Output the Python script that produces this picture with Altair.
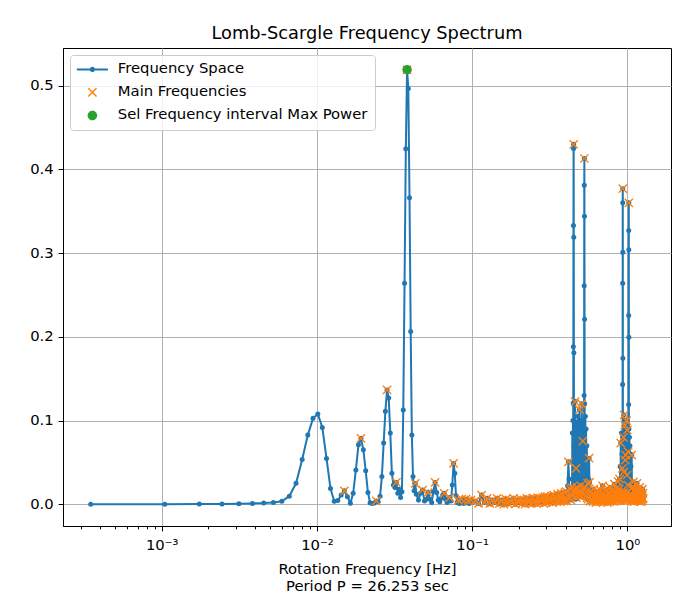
import altair as alt
import pandas as pd

# ---------------- data ----------------
series_names = ["Frequency Space", "Main Frequencies", "Sel Frequency interval Max Power"]
series_colors = ["#1f77b4", "#ff7f0e", "#2ca02c"]

# low-frequency part
freq_low = [0.000349, 0.001048, 0.001747, 0.002446, 0.003145, 0.003844, 0.004543, 0.005242,
            0.005941, 0.006640, 0.007339, 0.008038, 0.008737, 0.009436, 0.010135, 0.010834,
            0.011533, 0.012232, 0.012931, 0.013630, 0.014329, 0.015028, 0.015727, 0.016426,
            0.017125, 0.017824, 0.018523, 0.019222, 0.019921, 0.020620, 0.021319, 0.022018,
            0.022717, 0.023416, 0.024115, 0.024814, 0.025513, 0.026212, 0.026911, 0.027610,
            0.028309, 0.029008, 0.029707, 0.030406, 0.031105, 0.031804, 0.032503, 0.033202,
            0.033901, 0.034600, 0.035299, 0.035998, 0.036697, 0.037396, 0.038095, 0.038794,
            0.039493, 0.040192, 0.040891, 0.041590, 0.042289, 0.042988]
power_low = [0.0000, 0.0001, 0.0002, 0.0004, 0.0006, 0.0010, 0.0014, 0.0022,
             0.0035, 0.0096, 0.0250, 0.0535, 0.0826, 0.1026, 0.1078, 0.0918,
             0.0547, 0.0188, 0.0036, 0.0044, 0.0110, 0.0160, 0.0090, 0.0012,
             0.0130, 0.0410, 0.0710, 0.0786, 0.0650, 0.0400, 0.0140, 0.0018,
             0.0010, 0.0016, 0.0040, 0.0030, 0.0095, 0.0330, 0.0730, 0.1110,
             0.1365, 0.1270, 0.0850, 0.0370, 0.0230, 0.0200, 0.0260, 0.0130,
             0.0180, 0.0080, 0.0150, 0.1126, 0.2640, 0.4247, 0.5190, 0.4966,
             0.3660, 0.2064, 0.0826, 0.0330, 0.0160, 0.0248]
main_low = [0.010135, 0.015028, 0.019222, 0.024115, 0.028309, 0.032503, 0.038095, 0.042988]

# 0.04 - 0.1 Hz
freq_b = [0.0437, 0.0451, 0.0465, 0.0479, 0.0493, 0.0507, 0.0521, 0.0535, 0.0549, 0.0563,
          0.0577, 0.0591, 0.0605, 0.0619, 0.0633, 0.0647, 0.0661, 0.0675, 0.0689, 0.0703,
          0.0717, 0.0731, 0.0745, 0.0759, 0.0773, 0.0787, 0.0801, 0.0815, 0.0829, 0.0843,
          0.0857, 0.0871, 0.0885, 0.0899, 0.0913, 0.0927, 0.0941, 0.0955, 0.0969, 0.0983, 0.0997]
power_b = [0.012, 0.005, 0.013, 0.017, 0.004, 0.006, 0.014, 0.006, 0.002, 0.015,
           0.026, 0.014, 0.005, 0.003, 0.007, 0.011, 0.013, 0.006, 0.002, 0.004,
           0.008, 0.004, 0.023, 0.0487, 0.037, 0.010, 0.002, 0.005, 0.001, 0.003,
           0.006, 0.002, 0.001, 0.004, 0.006, 0.002, 0.004, 0.001, 0.003, 0.005, 0.002]
main_b = [0.0479, 0.0521, 0.0577, 0.0661, 0.0717, 0.0759, 0.0815, 0.0857, 0.0913, 0.0941,
          0.0983]

# 0.1 - 0.4 Hz (every point is a flagged maximum at this density)
freq_c = [0.105, 0.110, 0.115, 0.120, 0.125, 0.130, 0.135, 0.140, 0.145, 0.150,
          0.155, 0.160, 0.165, 0.170, 0.175, 0.180, 0.185, 0.190, 0.195, 0.200,
          0.205, 0.210, 0.215, 0.220, 0.225, 0.230, 0.235, 0.240, 0.245, 0.250,
          0.255, 0.260, 0.265, 0.270, 0.275, 0.280, 0.285, 0.290, 0.295, 0.300,
          0.305, 0.310, 0.315, 0.320, 0.325, 0.330, 0.335, 0.340, 0.345, 0.350,
          0.355, 0.360, 0.365, 0.370, 0.375, 0.380, 0.385, 0.390, 0.395]
power_c = [0.004, 0.001, 0.011, 0.002, 0.007, 0.001, 0.005, 0.002, 0.007, 0.001,
           0.005, 0.000, 0.006, 0.001, 0.005, 0.002, 0.007, 0.000, 0.005, 0.002,
           0.006, 0.001, 0.005, 0.000, 0.007, 0.002, 0.006, 0.001, 0.007, 0.002,
           0.006, 0.001, 0.008, 0.002, 0.007, 0.003, 0.008, 0.001, 0.009, 0.002,
           0.009, 0.003, 0.008, 0.004, 0.010, 0.002, 0.011, 0.004, 0.009, 0.003,
           0.012, 0.004, 0.010, 0.003, 0.013, 0.005, 0.011, 0.004, 0.014]

# 0.4 - 0.58 Hz (first group of peaks)
freq_d = [0.400, 0.404, 0.408, 0.412, 0.417, 0.421, 0.425, 0.429, 0.433, 0.437,
          0.440, 0.442, 0.444, 0.446, 0.4473, 0.4480, 0.4487, 0.4494, 0.4501, 0.4508,
          0.4515, 0.4522, 0.4529, 0.455, 0.458, 0.4605, 0.463, 0.465, 0.4672, 0.470,
          0.473, 0.476, 0.479, 0.482, 0.485, 0.488, 0.4908, 0.494, 0.497, 0.500,
          0.503, 0.506, 0.5086, 0.511, 0.5135, 0.5162, 0.519, 0.522, 0.5250, 0.5263,
          0.5270, 0.5277, 0.5284, 0.5291, 0.5298, 0.5305, 0.533, 0.536, 0.539, 0.542,
          0.545, 0.548, 0.551, 0.555, 0.559, 0.563, 0.5666, 0.570, 0.574]
power_d = [0.005, 0.015, 0.004, 0.022, 0.0507, 0.030, 0.007, 0.018, 0.005, 0.020,
           0.010, 0.085, 0.012, 0.100, 0.010, 0.121, 0.188, 0.333, 0.425, 0.430,
           0.319, 0.181, 0.070, 0.015, 0.095, 0.1226, 0.018, 0.006, 0.0427, 0.008,
           0.098, 0.020, 0.105, 0.012, 0.090, 0.016, 0.113, 0.010, 0.100, 0.022,
           0.095, 0.014, 0.120, 0.009, 0.030, 0.0755, 0.018, 0.100, 0.012, 0.130,
           0.261, 0.381, 0.413, 0.344, 0.221, 0.120, 0.020, 0.105, 0.010, 0.090,
           0.015, 0.070, 0.008, 0.025, 0.006, 0.030, 0.055, 0.026, 0.004]
main_d = [0.400, 0.404, 0.408, 0.417, 0.425, 0.429, 0.433, 0.437, 0.440, 0.444, 0.4508,
          0.455, 0.4605, 0.463, 0.4672, 0.470, 0.476, 0.482, 0.488, 0.4908, 0.494, 0.500,
          0.506, 0.5086, 0.511, 0.5162, 0.519, 0.5250, 0.5284, 0.533, 0.539, 0.545, 0.551,
          0.555, 0.559, 0.5666, 0.570, 0.574]

# 0.58 - 0.89 Hz (every point flagged)
freq_e = [0.578, 0.584, 0.590, 0.596, 0.602, 0.608, 0.614, 0.620, 0.626, 0.632,
          0.638, 0.644, 0.650, 0.656, 0.662, 0.668, 0.674, 0.680, 0.686, 0.692,
          0.698, 0.704, 0.710, 0.716, 0.722, 0.728, 0.734, 0.740, 0.746, 0.752,
          0.758, 0.764, 0.770, 0.776, 0.782, 0.788, 0.794, 0.800, 0.806, 0.812,
          0.818, 0.824, 0.830, 0.836, 0.842, 0.848, 0.854, 0.860, 0.866, 0.872,
          0.878, 0.884]
power_e = [0.004, 0.016, 0.006, 0.012, 0.003, 0.018, 0.007, 0.011, 0.002, 0.015,
           0.005, 0.010, 0.003, 0.014, 0.006, 0.017, 0.004, 0.011, 0.003, 0.022,
           0.007, 0.013, 0.003, 0.010, 0.005, 0.016, 0.004, 0.012, 0.002, 0.018,
           0.006, 0.013, 0.003, 0.020, 0.007, 0.011, 0.004, 0.017, 0.006, 0.013,
           0.003, 0.024, 0.007, 0.015, 0.005, 0.019, 0.004, 0.013, 0.008, 0.027,
           0.005, 0.018]

# 0.89 - 1.11 Hz (second group of peaks)
freq_f = [0.888, 0.891, 0.894, 0.898, 0.902, 0.907, 0.911, 0.915, 0.919, 0.923,
          0.927, 0.930, 0.9319, 0.9326, 0.9333, 0.9340, 0.9347, 0.9354, 0.9361, 0.939,
          0.943, 0.9455, 0.948, 0.950, 0.952, 0.955, 0.958, 0.961, 0.964, 0.967,
          0.970, 0.973, 0.976, 0.979, 0.982, 0.985, 0.988, 0.991, 0.994, 0.997,
          1.000, 1.003, 1.006, 1.009, 1.012, 1.015, 1.0189, 1.0196, 1.0203, 1.0210,
          1.0217, 1.0224, 1.0231, 1.027, 1.031, 1.035, 1.039, 1.043, 1.047, 1.051,
          1.055, 1.059, 1.0667, 1.071, 1.077, 1.083, 1.088, 1.093, 1.099, 1.105]
power_f = [0.005, 0.030, 0.006, 0.045, 0.008, 0.073, 0.010, 0.085, 0.006, 0.060,
           0.012, 0.0427, 0.143, 0.264, 0.360, 0.377, 0.301, 0.1745, 0.080, 0.010,
           0.080, 0.006, 0.0387, 0.007, 0.1066, 0.015, 0.090, 0.005, 0.0946, 0.012,
           0.0527, 0.006, 0.0587, 0.010, 0.085, 0.005, 0.100, 0.008, 0.0347, 0.006,
           0.0886, 0.014, 0.0228, 0.005, 0.0626, 0.010, 0.119, 0.2255, 0.327, 0.360,
           0.304, 0.1996, 0.090, 0.008, 0.080, 0.006, 0.070, 0.012, 0.060, 0.005,
           0.045, 0.010, 0.0587, 0.004, 0.020, 0.005, 0.006, 0.0267, 0.003, 0.016]
main_f = [0.888, 0.891, 0.894, 0.902, 0.907, 0.911, 0.919, 0.927, 0.930, 0.9340, 0.939,
          0.943, 0.9455, 0.948, 0.950, 0.952, 0.955, 0.961, 0.964, 0.967, 0.970, 0.973,
          0.976, 0.979, 0.985, 0.988, 0.991, 0.994, 0.997, 1.000, 1.003, 1.006, 1.009,
          1.012, 1.015, 1.0210, 1.027, 1.035, 1.043, 1.051, 1.059, 1.0667, 1.071, 1.077,
          1.083, 1.088, 1.093, 1.099, 1.105]

# 1.11 - 1.27 Hz (every point flagged)
freq_g = [1.111, 1.117, 1.123, 1.129, 1.135, 1.141, 1.147, 1.153, 1.159, 1.165,
          1.171, 1.177, 1.183, 1.189, 1.195, 1.201, 1.207, 1.213, 1.219, 1.225,
          1.231, 1.237, 1.243, 1.249, 1.255, 1.261, 1.267]
power_g = [0.006, 0.015, 0.004, 0.018, 0.007, 0.013, 0.005, 0.025, 0.006, 0.012,
           0.004, 0.017, 0.007, 0.013, 0.004, 0.020, 0.006, 0.011, 0.003, 0.016,
           0.007, 0.012, 0.004, 0.018, 0.006, 0.013, 0.007]

# selected maximum
sel_freq = [0.038095]
sel_power = [0.519]

# ticks
x_major = [0.001, 0.01, 0.1, 1.0]
x_major_labels = ["10⁻³", "10⁻²", "10⁻¹", "10⁰"]
x_minor = [0.0003, 0.0004, 0.0005, 0.0006, 0.0007, 0.0008, 0.0009,
           0.002, 0.003, 0.004, 0.005, 0.006, 0.007, 0.008, 0.009,
           0.02, 0.03, 0.04, 0.05, 0.06, 0.07, 0.08, 0.09,
           0.2, 0.3, 0.4, 0.5, 0.6, 0.7, 0.8, 0.9]
y_ticks = [0.0, 0.1, 0.2, 0.3, 0.4, 0.5]

# ---------------- frames ----------------
freq = freq_low + freq_b + freq_c + freq_d + freq_e + freq_f + freq_g
power = power_low + power_b + power_c + power_d + power_e + power_f + power_g
spec = pd.DataFrame({"f": freq, "p": power})

main_freq = main_low + main_b + freq_c + main_d + freq_e + main_f + freq_g
main_keys = {round(v, 5) for v in main_freq}
main = spec[spec["f"].round(5).isin(main_keys)].copy()

sel = pd.DataFrame({"f": sel_freq, "p": sel_power})

legend_rows = pd.DataFrame({"f": pd.Series([], dtype=float),
                            "p": pd.Series([], dtype=float),
                            "series": pd.Series([], dtype=str)})

# ---------------- chart ----------------
FONT = "DejaVu Sans"
FS = 14.8


def near(v):
    return f"abs(datum.value - {v}) < {v * 1e-6}"


major_test = " || ".join(near(v) for v in x_major)
label_expr = "".join(f"{near(v)} ? '{lab}' : " for v, lab in zip(x_major, x_major_labels)) + "''"

x_scale = alt.Scale(type="log", domain=[2.314e-4, 1.910], nice=False)
y_scale = alt.Scale(domain=[-0.026, 0.545], nice=False, zero=False)

x_axis = alt.Axis(
    values=sorted(x_major + x_minor),
    labelExpr=label_expr,
    tickSize={"condition": {"test": major_test, "value": 4.9}, "value": 2.8},
    gridOpacity={"condition": {"test": major_test, "value": 1}, "value": 0},
    grid=True,
    labelOverlap=False,
    labelFlush=False,
    labelPadding=7,
    title=["Rotation Frequency [Hz]", "Period P = 26.253 sec"],
    titleLineHeight=17,
    titlePadding=9,
)
y_axis = alt.Axis(
    values=y_ticks,
    format=".1f",
    tickSize=4.9,
    labelPadding=4.9,
    grid=True,
    title=None,
)

X = alt.X("f:Q", scale=x_scale, axis=x_axis)
Y = alt.Y("p:Q", scale=y_scale, axis=y_axis)
Xn = alt.X("f:Q", scale=x_scale)
Yn = alt.Y("p:Q", scale=y_scale)

# legend glyphs (filled outlines, unit = 5 px at symbol size 100)
legend_shapes = [
    "M-3.1,-0.2L3.1,-0.2L3.1,0.2L-3.1,0.2Z M0.52,0A0.52,0.52,0,1,1,-0.52,0A0.52,0.52,0,1,1,0.52,0Z",
    "M-0.72,-0.92L0.92,0.72L0.72,0.92L-0.92,-0.72Z M-0.92,0.72L0.72,-0.92L0.92,-0.72L-0.72,0.92Z",
    "M0.95,0A0.95,0.95,0,1,1,-0.95,0A0.95,0.95,0,1,1,0.95,0Z",
]

legend = alt.Legend(
    title=None,
    orient="top-left",
    offset=7,
    padding=7,
    fillColor="rgba(255,255,255,0.8)",
    strokeColor="#cccccc",
    cornerRadius=3,
    labelFont=FONT,
    labelFontSize=FS,
    labelColor="black",
    labelLimit=400,
    labelOffset=18,
    rowPadding=7,
    symbolSize=100,
    symbolOffset=8,
    symbolStrokeWidth=0,
    symbolOpacity=1,
)

line = alt.Chart(spec).mark_line(color="#1f77b4", strokeWidth=2, opacity=1).encode(x=X, y=Y)
dots = alt.Chart(spec).mark_circle(color="#1f77b4", size=25, opacity=1).encode(x=Xn, y=Yn)
marks = alt.Chart(main).mark_point(
    shape="M-1,-1L1,1M-1,1L1,-1", size=68, filled=False, strokeWidth=1.4,
    color="#ff7f0e", opacity=1
).encode(x=Xn, y=Yn)
selpt = alt.Chart(sel).mark_circle(color="#2ca02c", size=90, opacity=1).encode(x=Xn, y=Yn)
legend_layer = alt.Chart(legend_rows).mark_point(filled=True, opacity=1, size=100).encode(
    x=Xn, y=Yn,
    color=alt.Color("series:N", scale=alt.Scale(domain=series_names, range=series_colors), legend=legend),
    shape=alt.Shape("series:N", scale=alt.Scale(domain=series_names, range=legend_shapes), legend=legend),
)

chart = (
    alt.layer(line, dots, marks, selpt, legend_layer)
    .properties(
        width=608,
        height=478,
        padding={"left": 63, "top": 48, "right": 13, "bottom": 70},
        autosize=alt.AutoSizeParams(type="none"),
        title=alt.TitleParams(
            "Lomb-Scargle Frequency Spectrum",
            font=FONT, fontSize=17.8, fontWeight="normal", color="black",
            anchor="middle", offset=5,
        ),
    )
    .configure_view(stroke="black", strokeWidth=1)
    .configure_axis(
        labelFont=FONT, labelFontSize=FS, labelColor="black",
        titleFont=FONT, titleFontSize=FS, titleFontWeight="normal", titleColor="black",
        domainColor="black", domainWidth=1, tickColor="black", tickWidth=1,
        gridColor="#b0b0b0", gridWidth=1,
    )
)

chart.save("out.html", embed_options={"renderer": "svg", "actions": False})
